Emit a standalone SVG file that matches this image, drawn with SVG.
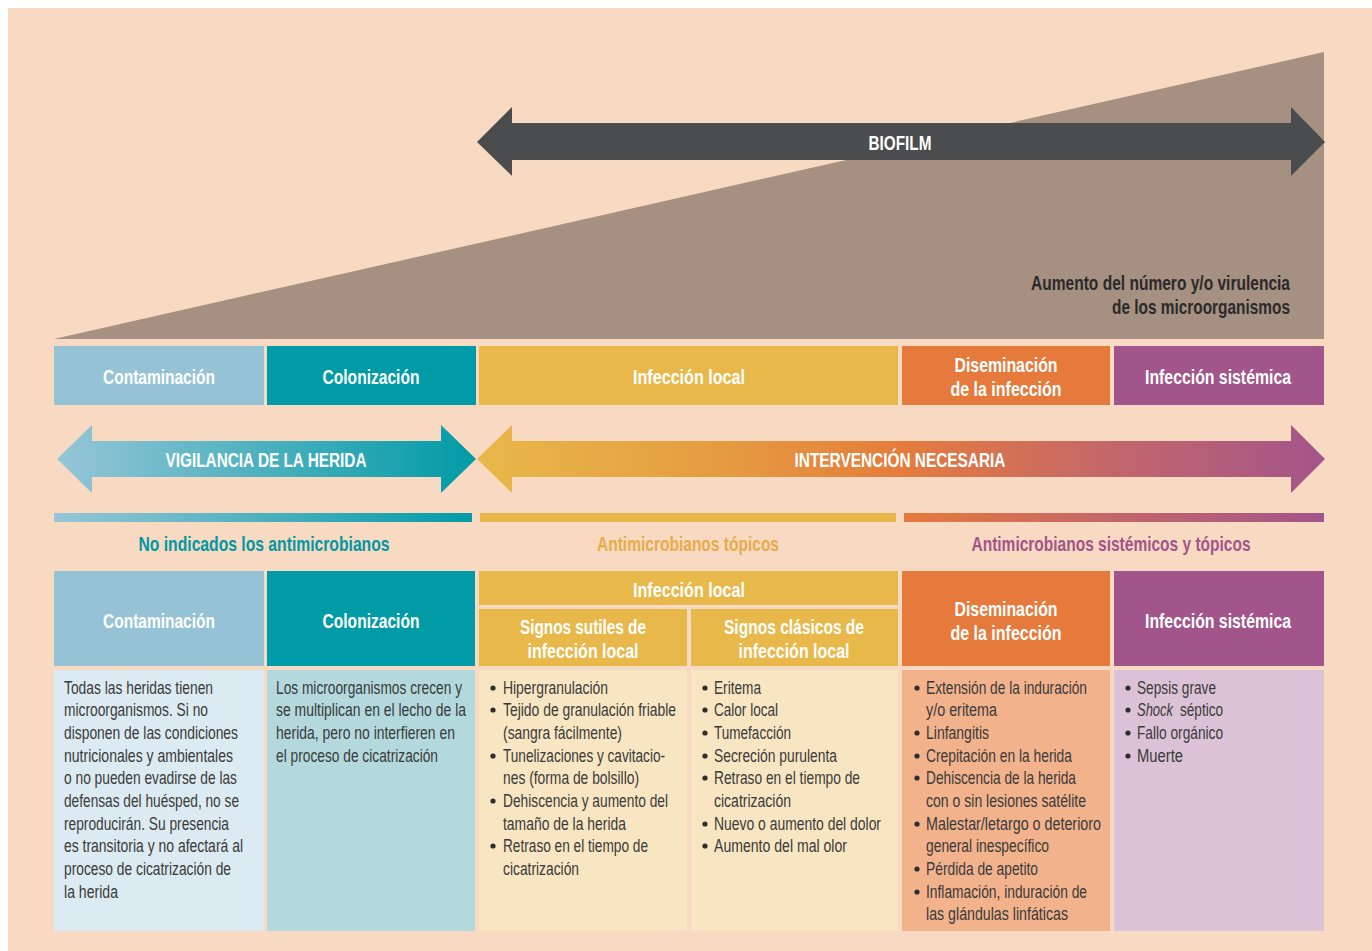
<svg xmlns="http://www.w3.org/2000/svg" width="1372" height="951" viewBox="0 0 1372 951">
<style>
.hb{font-family:"Liberation Sans",Arial,sans-serif;font-weight:bold;font-size:21px;fill:#fff;text-anchor:middle}
.lb{font-family:"Liberation Sans",Arial,sans-serif;font-weight:bold;font-size:21px;text-anchor:middle}
.bt{font-family:"Liberation Sans",Arial,sans-serif;font-size:17.5px;fill:#3a3a3a}
.bl{fill:#2e2e2e}
.dk{font-family:"Liberation Sans",Arial,sans-serif;font-weight:bold;font-size:20px;fill:#2a2a2a;text-anchor:end}
</style>
<defs>
<linearGradient id="gBlue" gradientUnits="userSpaceOnUse" x1="54" y1="0" x2="476" y2="0">
<stop offset="0" stop-color="#97C6D7"/><stop offset="1" stop-color="#009BA6"/>
</linearGradient>
<linearGradient id="gWarm" gradientUnits="userSpaceOnUse" x1="476" y1="0" x2="1325" y2="0">
<stop offset="0" stop-color="#E8B84A"/><stop offset="0.3" stop-color="#E59A40"/><stop offset="0.5" stop-color="#E57C3C"/><stop offset="0.75" stop-color="#C3666B"/><stop offset="1" stop-color="#A3558A"/>
</linearGradient>
<linearGradient id="gBar" gradientUnits="userSpaceOnUse" x1="904" y1="0" x2="1324" y2="0">
<stop offset="0" stop-color="#E57A3C"/><stop offset="0.5" stop-color="#C3666B"/><stop offset="1" stop-color="#A3558A"/>
</linearGradient>
</defs>
<rect x="0" y="0" width="1372" height="951" fill="#fff"/>
<rect x="8" y="8" width="1364" height="943" fill="#F8D9C2"/>

<g id="increase">
<polygon points="54,339 1324,52 1324,339" fill="#A69081"/>
<text class="dk" x="1290" y="290" textLength="259" lengthAdjust="spacingAndGlyphs">Aumento del número y/o virulencia</text>
<text class="dk" x="1290" y="314" textLength="178" lengthAdjust="spacingAndGlyphs">de los microorganismos</text>
</g>

<g id="connectors">
<g id="biofilm">
<polygon points="477,142 512,107 512,123 1291,123 1291,107 1325,142 1291,176 1291,160 512,160 512,176" fill="#4B4C4E"/>
<text class="hb" x="900" y="150" textLength="63" lengthAdjust="spacingAndGlyphs">BIOFILM</text>
</g>
<g id="vigilancia">
<polygon points="57,459 92,425 92,441 441,441 441,425 476,459 441,493 441,477 92,477 92,493" fill="url(#gBlue)"/>
<text class="hb" x="266" y="467" textLength="201" lengthAdjust="spacingAndGlyphs">VIGILANCIA DE LA HERIDA</text>
</g>
<g id="intervencion">
<polygon points="477,459 512,425 512,441 1291,441 1291,425 1325,459 1291,493 1291,477 512,477 512,493" fill="url(#gWarm)"/>
<text class="hb" x="900" y="467" textLength="211" lengthAdjust="spacingAndGlyphs">INTERVENCIÓN NECESARIA</text>
</g>
</g>

<g id="stages">
<g id="s-contaminacion"><rect x="54" y="346" width="210" height="59" fill="#95C3D5"/><text class="hb" x="159" y="384" textLength="112" lengthAdjust="spacingAndGlyphs">Contaminación</text></g>
<g id="s-colonizacion"><rect x="267" y="346" width="209" height="59" fill="#009BA6"/><text class="hb" x="371" y="384" textLength="97" lengthAdjust="spacingAndGlyphs">Colonización</text></g>
<g id="s-infeccion-local"><rect x="479" y="346" width="419" height="59" fill="#E8B84A"/><text class="hb" x="689" y="384" textLength="112" lengthAdjust="spacingAndGlyphs">Infección local</text></g>
<g id="s-diseminacion"><rect x="902" y="346" width="208" height="59" fill="#E57A3C"/><text class="hb" x="1006" y="372" textLength="103" lengthAdjust="spacingAndGlyphs">Diseminación</text><text class="hb" x="1006" y="396" textLength="111" lengthAdjust="spacingAndGlyphs">de la infección</text></g>
<g id="s-sistemica"><rect x="1114" y="346" width="210" height="59" fill="#A1558A"/><text class="hb" x="1218" y="384" textLength="146" lengthAdjust="spacingAndGlyphs">Infección sistémica</text></g>
</g>

<g id="antimicrobials">
<g id="am-no"><rect x="54" y="513" width="418" height="9" fill="url(#gBlue)"/><text class="lb" x="264" y="551" fill="#0098A4" textLength="251" lengthAdjust="spacingAndGlyphs">No indicados los antimicrobianos</text></g>
<g id="am-topicos"><rect x="480" y="513" width="416" height="9" fill="#E8B84A"/><text class="lb" x="688" y="551" fill="#E6AC4A" textLength="182" lengthAdjust="spacingAndGlyphs">Antimicrobianos tópicos</text></g>
<g id="am-sistemicos"><rect x="904" y="513" width="420" height="9" fill="url(#gBar)"/><text class="lb" x="1111" y="551" fill="#A1558A" textLength="279" lengthAdjust="spacingAndGlyphs">Antimicrobianos sistémicos y tópicos</text></g>
</g>

<g id="table">
<g id="t-contaminacion">
<rect x="54" y="571" width="210" height="95" fill="#95C3D5"/>
<text class="hb" x="159" y="628" textLength="112" lengthAdjust="spacingAndGlyphs">Contaminación</text>
<rect x="54" y="670" width="210" height="261" fill="#DCEBF1"/>
<g class="bt">
<text x="64" y="694" textLength="149" lengthAdjust="spacingAndGlyphs">Todas las heridas tienen</text>
<text x="64" y="716" textLength="144" lengthAdjust="spacingAndGlyphs">microorganismos. Si no</text>
<text x="64" y="739" textLength="174" lengthAdjust="spacingAndGlyphs">disponen de las condiciones</text>
<text x="64" y="762" textLength="169" lengthAdjust="spacingAndGlyphs">nutricionales y ambientales</text>
<text x="64" y="784" textLength="173" lengthAdjust="spacingAndGlyphs">o no pueden evadirse de las</text>
<text x="64" y="807" textLength="175" lengthAdjust="spacingAndGlyphs">defensas del huésped, no se</text>
<text x="64" y="830" textLength="165" lengthAdjust="spacingAndGlyphs">reproducirán. Su presencia</text>
<text x="64" y="852" textLength="179" lengthAdjust="spacingAndGlyphs">es transitoria y no afectará al</text>
<text x="64" y="875" textLength="167" lengthAdjust="spacingAndGlyphs">proceso de cicatrización de</text>
<text x="64" y="898" textLength="54" lengthAdjust="spacingAndGlyphs">la herida</text>
</g>
</g>
<g id="t-colonizacion">
<rect x="267" y="571" width="208" height="95" fill="#009BA6"/>
<text class="hb" x="371" y="628" textLength="97" lengthAdjust="spacingAndGlyphs">Colonización</text>
<rect x="267" y="670" width="208" height="261" fill="#B3D9DD"/>
<g class="bt">
<text x="276" y="694" textLength="186" lengthAdjust="spacingAndGlyphs">Los microorganismos crecen y</text>
<text x="276" y="716" textLength="190" lengthAdjust="spacingAndGlyphs">se multiplican en el lecho de la</text>
<text x="276" y="739" textLength="179" lengthAdjust="spacingAndGlyphs">herida, pero no interfieren en</text>
<text x="276" y="762" textLength="162" lengthAdjust="spacingAndGlyphs">el proceso de cicatrización</text>
</g>
</g>
<g id="t-infeccion-local">
<rect x="479" y="571" width="419" height="34" fill="#E8B84A"/>
<text class="hb" x="689" y="597" textLength="112" lengthAdjust="spacingAndGlyphs">Infección local</text>
</g>
<g id="t-sutiles">
<rect x="479" y="609" width="208" height="57" fill="#E8B84A"/>
<text class="hb" x="583" y="634" textLength="126" lengthAdjust="spacingAndGlyphs">Signos sutiles de</text>
<text class="hb" x="583" y="658" textLength="111" lengthAdjust="spacingAndGlyphs">infección local</text>
<rect x="479" y="670" width="208" height="261" fill="#F8E6C2"/>
<g class="bl">
<circle cx="493" cy="688" r="2.6"/><circle cx="493" cy="710" r="2.6"/><circle cx="493" cy="756" r="2.6"/><circle cx="493" cy="801" r="2.6"/><circle cx="493" cy="846" r="2.6"/>
</g>
<g class="bt">
<text x="503" y="694" textLength="105" lengthAdjust="spacingAndGlyphs">Hipergranulación</text>
<text x="503" y="716" textLength="173" lengthAdjust="spacingAndGlyphs">Tejido de granulación friable</text>
<text x="503" y="739" textLength="119" lengthAdjust="spacingAndGlyphs">(sangra fácilmente)</text>
<text x="503" y="762" textLength="162" lengthAdjust="spacingAndGlyphs">Tunelizaciones y cavitacio-</text>
<text x="503" y="784" textLength="136" lengthAdjust="spacingAndGlyphs">nes (forma de bolsillo)</text>
<text x="503" y="807" textLength="165" lengthAdjust="spacingAndGlyphs">Dehiscencia y aumento del</text>
<text x="503" y="830" textLength="123" lengthAdjust="spacingAndGlyphs">tamaño de la herida</text>
<text x="503" y="852" textLength="145" lengthAdjust="spacingAndGlyphs">Retraso en el tiempo de</text>
<text x="503" y="875" textLength="76" lengthAdjust="spacingAndGlyphs">cicatrización</text>
</g>
</g>
<g id="t-clasicos">
<rect x="691" y="609" width="207" height="57" fill="#E8B84A"/>
<text class="hb" x="794" y="634" textLength="140" lengthAdjust="spacingAndGlyphs">Signos clásicos de</text>
<text class="hb" x="794" y="658" textLength="111" lengthAdjust="spacingAndGlyphs">infección local</text>
<rect x="691" y="670" width="207" height="261" fill="#F8E6C2"/>
<g class="bl">
<circle cx="705" cy="688" r="2.6"/><circle cx="705" cy="710" r="2.6"/><circle cx="705" cy="733" r="2.6"/><circle cx="705" cy="756" r="2.6"/><circle cx="705" cy="778" r="2.6"/><circle cx="705" cy="824" r="2.6"/><circle cx="705" cy="846" r="2.6"/>
</g>
<g class="bt">
<text x="714" y="694" textLength="47" lengthAdjust="spacingAndGlyphs">Eritema</text>
<text x="714" y="716" textLength="64" lengthAdjust="spacingAndGlyphs">Calor local</text>
<text x="714" y="739" textLength="77" lengthAdjust="spacingAndGlyphs">Tumefacción</text>
<text x="714" y="762" textLength="123" lengthAdjust="spacingAndGlyphs">Secreción purulenta</text>
<text x="714" y="784" textLength="146" lengthAdjust="spacingAndGlyphs">Retraso en el tiempo de</text>
<text x="714" y="807" textLength="77" lengthAdjust="spacingAndGlyphs">cicatrización</text>
<text x="714" y="830" textLength="167" lengthAdjust="spacingAndGlyphs">Nuevo o aumento del dolor</text>
<text x="714" y="852" textLength="133" lengthAdjust="spacingAndGlyphs">Aumento del mal olor</text>
</g>
</g>
<g id="t-diseminacion">
<rect x="902" y="571" width="208" height="95" fill="#E57A3C"/>
<text class="hb" x="1006" y="616" textLength="103" lengthAdjust="spacingAndGlyphs">Diseminación</text>
<text class="hb" x="1006" y="640" textLength="111" lengthAdjust="spacingAndGlyphs">de la infección</text>
<rect x="902" y="670" width="208" height="261" fill="#F2B28C"/>
<g class="bl">
<circle cx="917" cy="688" r="2.6"/><circle cx="917" cy="733" r="2.6"/><circle cx="917" cy="756" r="2.6"/><circle cx="917" cy="778" r="2.6"/><circle cx="917" cy="824" r="2.6"/><circle cx="917" cy="869" r="2.6"/><circle cx="917" cy="892" r="2.6"/>
</g>
<g class="bt">
<text x="926" y="694" textLength="161" lengthAdjust="spacingAndGlyphs">Extensión de la induración</text>
<text x="926" y="716" textLength="71" lengthAdjust="spacingAndGlyphs">y/o eritema</text>
<text x="926" y="739" textLength="63" lengthAdjust="spacingAndGlyphs">Linfangitis</text>
<text x="926" y="762" textLength="146" lengthAdjust="spacingAndGlyphs">Crepitación en la herida</text>
<text x="926" y="784" textLength="150" lengthAdjust="spacingAndGlyphs">Dehiscencia de la herida</text>
<text x="926" y="807" textLength="160" lengthAdjust="spacingAndGlyphs">con o sin lesiones satélite</text>
<text x="926" y="830" textLength="175" lengthAdjust="spacingAndGlyphs">Malestar/letargo o deterioro</text>
<text x="926" y="852" textLength="123" lengthAdjust="spacingAndGlyphs">general inespecífico</text>
<text x="926" y="875" textLength="112" lengthAdjust="spacingAndGlyphs">Pérdida de apetito</text>
<text x="926" y="898" textLength="161" lengthAdjust="spacingAndGlyphs">Inflamación, induración de</text>
<text x="926" y="920" textLength="142" lengthAdjust="spacingAndGlyphs">las glándulas linfáticas</text>
</g>
</g>
<g id="t-sistemica">
<rect x="1114" y="571" width="210" height="95" fill="#A1558A"/>
<text class="hb" x="1218" y="628" textLength="146" lengthAdjust="spacingAndGlyphs">Infección sistémica</text>
<rect x="1114" y="670" width="210" height="261" fill="#DCC2D6"/>
<g class="bl">
<circle cx="1128" cy="688" r="2.6"/><circle cx="1128" cy="710" r="2.6"/><circle cx="1128" cy="733" r="2.6"/><circle cx="1128" cy="756" r="2.6"/>
</g>
<g class="bt">
<text x="1137" y="694" textLength="79" lengthAdjust="spacingAndGlyphs">Sepsis grave</text>
<text x="1137" y="716" font-style="italic" textLength="36" lengthAdjust="spacingAndGlyphs">Shock</text>
<text x="1180" y="716" textLength="43" lengthAdjust="spacingAndGlyphs">séptico</text>
<text x="1137" y="739" textLength="86" lengthAdjust="spacingAndGlyphs">Fallo orgánico</text>
<text x="1137" y="762" textLength="46" lengthAdjust="spacingAndGlyphs">Muerte</text>
</g>
</g>
</g>
</svg>
